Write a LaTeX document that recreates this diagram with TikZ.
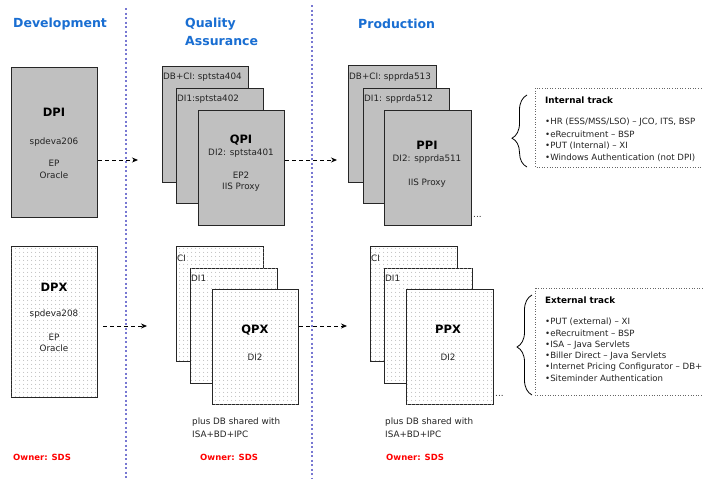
\documentclass[tikz,border=0pt]{standalone}
\usepackage{fontspec}
\setmainfont{DejaVu Sans}
\usetikzlibrary{patterns.meta,arrows.meta,decorations.pathreplacing,calc}
\definecolor{hblue}{RGB}{25,110,210}
\definecolor{boxgray}{RGB}{192,192,192}
\definecolor{divc}{RGB}{120,120,210}
\definecolor{ownred}{RGB}{255,0,0}
\definecolor{txt}{RGB}{35,35,35}
\begin{document}
\begin{tikzpicture}[x=1pt,y=-1pt,
  every node/.style={inner sep=0pt, text=txt},
  gbox/.style={draw=black!85, line width=1pt, fill=boxgray, anchor=north west, inner sep=0pt},
  pbox/.style={draw=black!85, line width=1pt, fill=white, anchor=north west, inner sep=0pt,
    postaction={pattern={Dots[distance=4pt, radius=0.6pt]}, pattern color=black!30}},
  head/.style={font=\fontsize{12.5}{14}\selectfont\bfseries, text=hblue, anchor=west},
  big/.style={font=\fontsize{11.5}{13}\selectfont\bfseries, text=black},
  small/.style={font=\fontsize{8.8}{10}\selectfont},
  lst/.style={font=\fontsize{8.6}{10}\selectfont, anchor=west},
  corner/.style={font=\fontsize{8.8}{10}\selectfont, anchor=west},
  owner/.style={font=\fontsize{8.5}{10}\selectfont\bfseries, text=ownred, anchor=west},
  divline/.style={draw=divc, line width=1.3pt, dash pattern=on 2pt off 2.5pt},
  flow/.style={draw=black, line width=0.8pt, dash pattern=on 4pt off 3pt, -{Stealth[length=6pt,width=5pt]}},
  trackbox/.style={draw=black!60, line width=0.6pt, dotted},
  brc/.style={draw=black, line width=0.8pt, decorate}
]
\useasboundingbox (0,0) rectangle (703,479);
\fill[white] (0,0) rectangle (703,479);

% dividers
\draw[divline] (126,8) -- (126,479);
\draw[divline] (312,5) -- (312,479);

% headings
\node[head] (hdev) at (13,24) {Development};
\node[head] (hqa1) at (185,24) {Quality};
\node[head] (hqa2) at (185,41) {Assurance};
\node[head] (hprod) at (358,24) {Production};

% ---------- upper row ----------
\node[gbox, minimum width=86pt, minimum height=150pt] (dpi) at (11,67) {};
\node[big] (tdpi) at (54,112) {DPI};
\node[small] (tdpi1) at (54,142) {spdeva206};
\node[small] (tdpi2) at (54,163) {EP};
\node[small] (tdpi3) at (54,175) {Oracle};

\node[gbox, minimum width=86pt, minimum height=116pt] (qpiA) at (162,66) {};
\node[corner] (tqpiA) at (163,77) {DB+CI: sptsta404};
\node[gbox, minimum width=87pt, minimum height=115pt] (qpiB) at (176,88) {};
\node[corner] (tqpiB) at (177,99) {DI1:sptsta402};
\node[gbox, minimum width=86pt, minimum height=115pt] (qpi) at (198,110) {};
\node[big] (tqpi) at (241,140) {QPI};
\node[small] (tqpi1) at (241,153) {DI2: sptsta401};
\node[small] (tqpi2) at (241,175) {EP2};
\node[small] (tqpi3) at (241,187) {IIS Proxy};

\node[gbox, minimum width=88pt, minimum height=117pt] (ppiA) at (348,65) {};
\node[corner] (tppiA) at (349,77) {DB+CI: spprda513};
\node[gbox, minimum width=86pt, minimum height=115pt] (ppiB) at (363,88) {};
\node[corner] (tppiB) at (364,99) {DI1: spprda512};
\node[gbox, minimum width=87pt, minimum height=115pt] (ppi) at (384,110) {};
\node[big] (tppi) at (427,145) {PPI};
\node[small] (tppi1) at (427,159) {DI2: spprda511};
\node[small] (tppi2) at (427,183) {IIS Proxy};
\node[small, anchor=west] (dots1) at (473,217) {...};

\coordinate (c1) at (138,160);
\coordinate (c2) at (337,160);
\draw[flow] (dpi.east |- c1) -- (c1);
\draw[flow] (qpi.east |- c2) -- (c2);

% internal track
\draw[trackbox] (535,88) rectangle (712,167);
\node[lst, font=\fontsize{8.8}{10}\selectfont\bfseries, text=black] (ithead) at (545,100) {Internal track};
\node[lst] (it1) at (545,122) {•HR (ESS/MSS/LSO) – JCO, ITS, BSP};
\node[lst] (it2) at (545,134) {•eRecruitment – BSP};
\node[lst] (it3) at (545,146) {•PUT (Internal) – XI};
\node[lst] (it4) at (545,158) {•Windows Authentication (not DPI)};
\draw[brc, decoration={brace, amplitude=15pt, aspect=0.4}] (527,167) -- (527,95);

% ---------- lower row ----------
\node[pbox, minimum width=86pt, minimum height=151pt] (dpx) at (11,246) {};
\node[big] (tdpx) at (54,287) {DPX};
\node[small] (tdpx1) at (54,314) {spdeva208};
\node[small] (tdpx2) at (54,337) {EP};
\node[small] (tdpx3) at (54,348) {Oracle};

\node[pbox, minimum width=87pt, minimum height=115pt] (qpxA) at (176,246) {};
\node[corner] (tqpxA) at (177,258) {CI};
\node[pbox, minimum width=87pt, minimum height=115pt] (qpxB) at (190,268) {};
\node[corner] (tqpxB) at (191,278) {DI1};
\node[pbox, minimum width=86pt, minimum height=115pt] (qpx) at (212,289) {};
\node[big] (tqpx) at (255,330) {QPX};
\node[small] (tqpx1) at (255,357) {DI2};

\node[pbox, minimum width=87pt, minimum height=115pt] (ppxA) at (370,246) {};
\node[corner] (tppxA) at (371,258) {CI};
\node[pbox, minimum width=88pt, minimum height=115pt] (ppxB) at (384,268) {};
\node[corner] (tppxB) at (385,278) {DI1};
\node[pbox, minimum width=87pt, minimum height=115pt] (ppx) at (406,289) {};
\node[big] (tppx) at (448,329) {PPX};
\node[small] (tppx1) at (448,357) {DI2};
\node[small, anchor=west] (dots2) at (495,396) {...};

\coordinate (c3s) at (103,326);
\coordinate (c3) at (147,326);
\coordinate (c4) at (347,326);
\draw[flow] (c3s) -- (c3);
\draw[flow] (qpx.east |- c4) -- (c4);

\node[corner] (sh1a) at (192,422) {plus DB shared with};
\node[corner] (sh1b) at (192,434) {ISA+BD+IPC};
\node[corner] (sh2a) at (385,422) {plus DB shared with};
\node[corner] (sh2b) at (385,434) {ISA+BD+IPC};

% external track
\draw[trackbox] (535,288) rectangle (712,395);
\node[lst, font=\fontsize{8.8}{10}\selectfont\bfseries, text=black] (ethead) at (545,300) {External track};
\node[lst] (et1) at (545,322) {•PUT (external) – XI};
\node[lst] (et2) at (545,333) {•eRecruitment – BSP};
\node[lst] (et3) at (545,345) {•ISA – Java Servlets};
\node[lst] (et4) at (545,356) {•Biller Direct – Java Servlets};
\node[lst] (et5) at (545,367) {•Internet Pricing Configurator – DB+};
\node[lst] (et6) at (545,378) {•Siteminder Authentication};
\draw[brc, decoration={brace, amplitude=15pt, aspect=0.48}] (532,395) -- (532,295);

% owners
\node[owner] (o1) at (13,457) {Owner: SDS};
\node[owner] (o2) at (200,457) {Owner: SDS};
\node[owner] (o3) at (386,457) {Owner: SDS};
\end{tikzpicture}
\end{document}
